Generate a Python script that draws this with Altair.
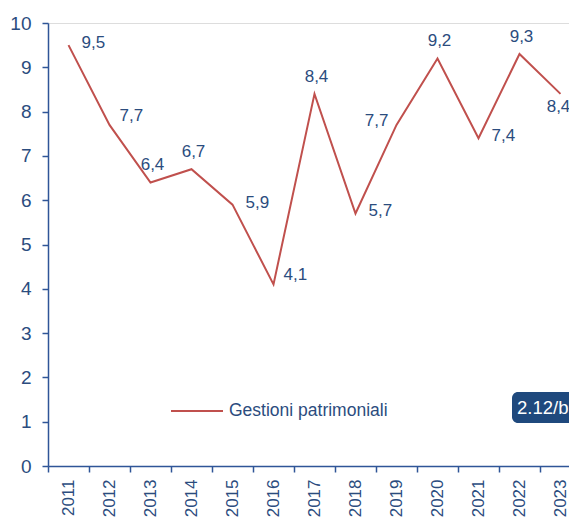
import altair as alt
import pandas as pd

years = ["2011", "2012", "2013", "2014", "2015", "2016", "2017",
         "2018", "2019", "2020", "2021", "2022", "2023"]
values = [9.5, 7.7, 6.4, 6.7, 5.9, 4.1, 8.4, 5.7, 7.7, 9.2, 7.4, 9.3, 8.4]
label_pos = ["right", "upright", "above", "above", "right", "upright", "above",
             "right", "left", "above", "right", "above", "below"]
series_name = "Gestioni patrimoniali"
badge_text = ["2.12/b"]

FONT = "Liberation Sans"
BLUE = "#2B4C7E"
AXIS = "#2F5597"
RED = "#C0504D"

df = pd.DataFrame({
    "year": years,
    "value": values,
    "label": [f"{v:.1f}".replace(".", ",") for v in values],
    "pos": label_pos,
    "series": [series_name] * len(years),
})

xenc = alt.X("year:O", bandPosition=0.5,
             scale=alt.Scale(type="band", paddingInner=0, paddingOuter=0,
                             range=[0, 533]),
             axis=alt.Axis(title=None, labelAngle=-90, labelAlign="right",
                           labelBaseline="middle", tickBand="extent",
                           tickSize=6, labelPadding=7, domainColor=AXIS,
                           tickColor=AXIS, labelColor=BLUE, labelFontSize=17,
                           labelFont=FONT, domainWidth=1.5, tickWidth=1.5))
yenc = alt.Y("value:Q",
             scale=alt.Scale(domain=[0, 10], nice=False),
             axis=alt.Axis(title=None, values=list(range(0, 11)), grid=False,
                           tickSize=6, labelPadding=11, domainColor=AXIS,
                           tickColor=AXIS, labelColor=BLUE, labelFontSize=19,
                           labelFont=FONT, domainWidth=1.5, tickWidth=1.5))

base = alt.Chart(df)

line = base.mark_line(strokeWidth=2).encode(
    x=xenc, y=yenc,
    color=alt.Color("series:N",
                    scale=alt.Scale(range=[RED]),
                    legend=alt.Legend(title=None, orient="none",
                                      legendX=122, legendY=361,
                                      symbolType="stroke", symbolSize=2704,
                                      symbolStrokeWidth=2, labelFont=FONT,
                                      labelFontSize=17.5, labelColor=BLUE,
                                      labelOffset=5, padding=0,
                                      labelLimit=400)),
)

def txt(pos, **kw):
    return base.transform_filter(alt.datum.pos == pos).mark_text(
        font=FONT, fontSize=17, color=BLUE, **kw
    ).encode(x=xenc, y=yenc, text="label:N")

labels = alt.layer(
    txt("right", align="left", baseline="middle", dx=13, dy=-2),
    txt("upright", align="left", baseline="middle", dx=10, dy=-9),
    txt("above", align="center", baseline="bottom", dx=2, dy=-8),
    txt("left", align="right", baseline="middle", dx=-8, dy=-4),
    txt("below", align="center", baseline="top", dx=-2, dy=5),
)

bdf = pd.DataFrame({"t": badge_text})
badge_rect = alt.Chart(bdf).mark_rect(
    fill="#1F497D", cornerRadius=6
).encode(x=alt.value(464), x2=alt.value(570), y=alt.value(369), y2=alt.value(400))
badge_txt = alt.Chart(bdf).mark_text(
    font=FONT, fontSize=18.5, color="white", align="left", baseline="middle"
).encode(x=alt.value(469), y=alt.value(385), text="t:N")

chart = alt.layer(line, labels, badge_rect, badge_txt).properties(
    width=521, height=443,
    autosize=alt.AutoSizeParams(type="none"),
    padding={"left": 40, "top": 15, "right": 0, "bottom": 52},
).configure_view(stroke=None).configure(background="white")

chart.save("out.html", embed_options={"renderer": "svg", "actions": False})
